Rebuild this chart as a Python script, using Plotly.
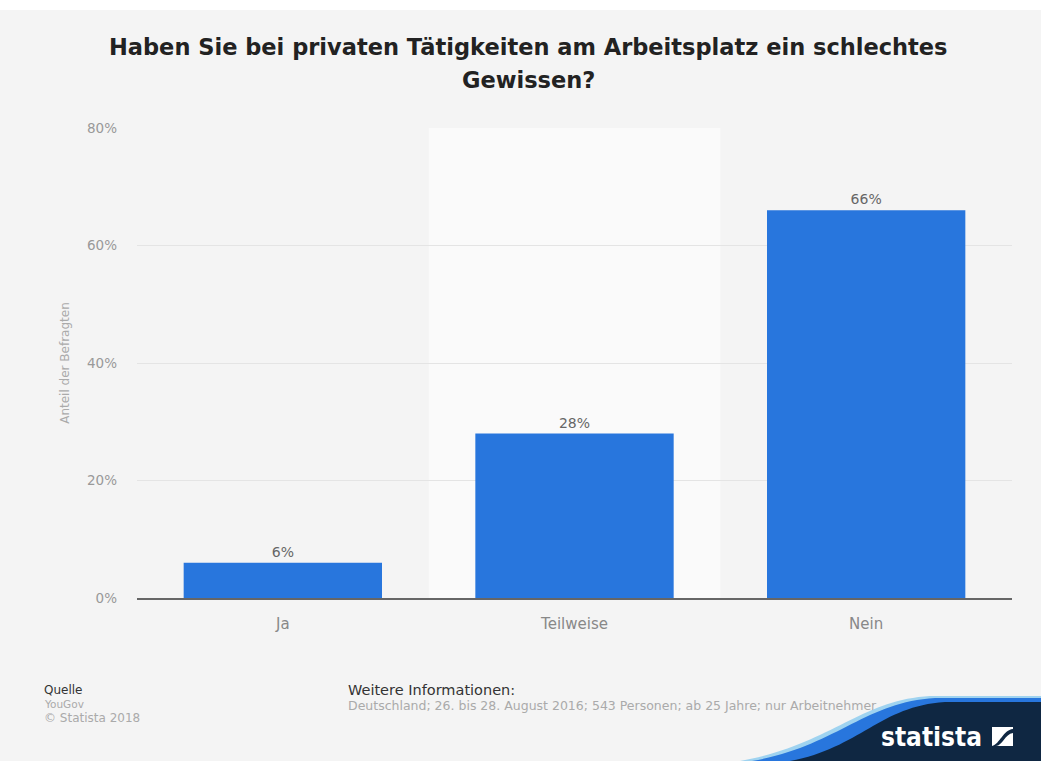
import plotly.graph_objects as go

# Survey answers and shares (percent)
categories = ["Ja", "Teilweise", "Nein"]
shares = [6, 28, 66]
tick_values = [0, 20, 40, 60, 80]
tick_labels = ["0%", "20%", "40%", "60%", "80%"]

W, H = 1041, 761
L, R, T, B = 137, 1012, 128, 598  # plot area in pixels


def px(x):
    return (x - L) / (R - L)


def py(y):
    return (B - y) / (B - T)


BLUE = "#2876dd"
NAVY = "#0f2742"
BG = "#f4f4f4"
FONT = "DejaVu Sans"

fig = go.Figure()
fig.add_trace(go.Bar(
    x=categories,
    y=shares,
    width=0.68,
    marker=dict(color=BLUE, line=dict(width=0)),
    text=[f"{v}%" for v in shares],
    textposition="outside",
    textfont=dict(family=FONT, size=14, color="#666666"),
    cliponaxis=False,
    hoverinfo="skip",
))

shapes = [
    # white strip at the very top
    dict(type="rect", xref="paper", yref="paper", x0=px(0), x1=px(W), y0=py(10), y1=py(0),
         fillcolor="white", line=dict(width=0), layer="below"),
    # highlighted column band
    dict(type="rect", xref="x", yref="paper", x0=0.5, x1=1.5, y0=0, y1=1,
         fillcolor="#fafafa", line=dict(width=0), layer="below"),
]


def path(points):
    s = "M {} {}".format(px(points[0][0]), py(points[0][1]))
    for seg in points[1:]:
        if len(seg) == 2:
            s += " L {} {}".format(px(seg[0]), py(seg[1]))
        else:
            s += " C {} {} {} {} {} {}".format(px(seg[0]), py(seg[1]), px(seg[2]), py(seg[3]),
                                               px(seg[4]), py(seg[5]))
    return s + " Z"


# footer wave of the brand logo
shapes.append(dict(type="path", xref="paper", yref="paper",
                   path=path([(740, 761), (830, 745, 860, 700, 930, 696), (1041, 696), (1041, 761)]),
                   fillcolor="#9fd3f0", line=dict(width=0)))
shapes.append(dict(type="path", xref="paper", yref="paper",
                   path=path([(752, 761), (835, 747, 865, 702, 935, 698), (1041, 698), (1041, 761)]),
                   fillcolor=BLUE, line=dict(width=0)))
shapes.append(dict(type="path", xref="paper", yref="paper",
                   path=path([(790, 761), (860, 748, 880, 706, 945, 702), (1041, 702), (1041, 761)]),
                   fillcolor=NAVY, line=dict(width=0)))
# logo icon
shapes.append(dict(type="rect", xref="paper", yref="paper", x0=px(992), x1=px(1013), y0=py(746), y1=py(727),
                   fillcolor="white", line=dict(width=0)))
shapes.append(dict(type="path", xref="paper", yref="paper",
                   path=path([(992, 746), (1000, 744, 1003, 730, 1013, 729), (1013, 733),
                              (1005, 734, 1002, 746, 996, 746)]),
                   fillcolor=NAVY, line=dict(width=0)))

title_font = dict(family=FONT, size=22.5, color="#222222")
annotations = [
    dict(text="<b>Haben Sie bei privaten Tätigkeiten am Arbeitsplatz ein schlechtes</b>",
         xref="paper", yref="paper", x=px(528), y=py(47), xanchor="center", yanchor="middle",
         showarrow=False, font=title_font),
    dict(text="<b>Gewissen?</b>",
         xref="paper", yref="paper", x=px(528), y=py(80), xanchor="center", yanchor="middle",
         showarrow=False, font=title_font),
    dict(text="Quelle", xref="paper", yref="paper", x=px(42), y=py(690), xanchor="left", yanchor="middle",
         showarrow=False, font=dict(family=FONT, size=12, color="#333333")),
    dict(text="YouGov", xref="paper", yref="paper", x=px(42), y=py(704), xanchor="left", yanchor="middle",
         showarrow=False, font=dict(family=FONT, size=10.5, color="#aaaaaa")),
    dict(text="© Statista 2018", xref="paper", yref="paper", x=px(42), y=py(718), xanchor="left",
         yanchor="middle", showarrow=False, font=dict(family=FONT, size=12, color="#aaaaaa")),
    dict(text="Weitere Informationen:", xref="paper", yref="paper", x=px(346), y=py(690), xanchor="left",
         yanchor="middle", showarrow=False, font=dict(family=FONT, size=14.5, color="#333333")),
    dict(text="Deutschland; 26. bis 28. August 2016; 543 Personen; ab 25 Jahre; nur Arbeitnehmer",
         xref="paper", yref="paper", x=px(346), y=py(705), xanchor="left", yanchor="middle",
         showarrow=False, font=dict(family=FONT, size=12.5, color="#aaaaaa")),
    dict(text="<b>statista</b>", xref="paper", yref="paper", x=px(984), y=py(737), xanchor="right",
         yanchor="middle", showarrow=False,
         font=dict(family="DejaVu Sans Condensed", size=26, color="white")),
]

fig.update_layout(
    width=W, height=H,
    margin=dict(l=L, r=W - R, t=T, b=H - B, pad=0),
    paper_bgcolor=BG,
    plot_bgcolor=BG,
    showlegend=False,
    bargap=0.32,
    shapes=shapes,
    annotations=annotations,
    xaxis=dict(
        type="category",
        showgrid=False,
        showline=True, linecolor="#666666", linewidth=1.5,
        ticks="", tickfont=dict(family=FONT, size=15, color="#888888"),
        ticklabelstandoff=11,
        range=[-0.5, 2.5],
        fixedrange=True,
    ),
    yaxis=dict(
        range=[0, 80],
        tickvals=tick_values,
        ticktext=tick_labels,
        tickfont=dict(family=FONT, size=13.5, color="#999999"),
        ticklabelstandoff=19,
        showgrid=True, gridcolor="#e4e4e4", gridwidth=1,
        zeroline=False, showline=False,
        title=dict(text="Anteil der Befragten", standoff=14,
                   font=dict(family=FONT, size=12, color="#aaaaaa")),
        fixedrange=True,
    ),
)

fig.write_html("out.html")
